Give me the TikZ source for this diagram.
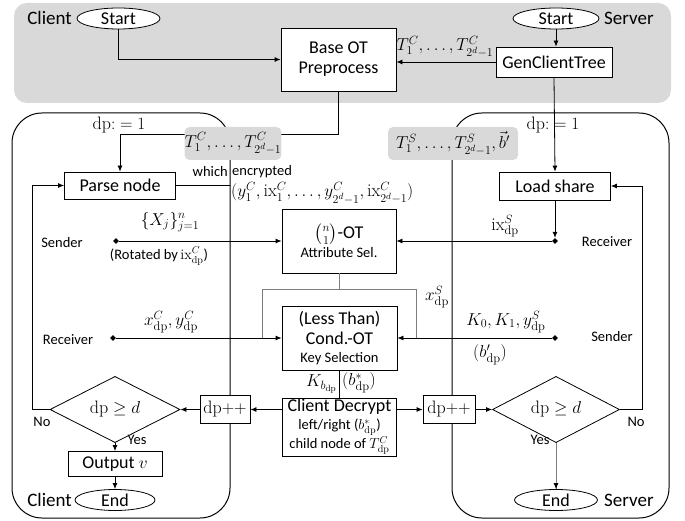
\documentclass[tikz,border=0pt]{standalone}
\usepackage{fontspec}
\usepackage{amsmath}
\newfontfamily\carlfont{Carlito}
\usetikzlibrary{arrows.meta,shapes.geometric,calc}
\definecolor{lgray}{RGB}{217,217,217}
\definecolor{lline}{RGB}{125,125,125}
\newcommand\smallf{\fontsize{14.5}{17}\selectfont}
\newcommand\bigf{\fontsize{19}{21}\selectfont}
\begin{document}
\begin{tikzpicture}[x=1pt,y=-1pt,
  font=\carlfont\fontsize{18}{20}\selectfont,
  box/.style={draw, line width=0.8pt, fill=white, inner sep=0pt, align=center},
  lab/.style={inner sep=0pt, font=\carlfont\smallf},
  mlab/.style={inner sep=0pt},
  term/.style={draw, ellipse, line width=0.8pt, inner sep=0pt, fill=white, minimum height=21pt},
  dec/.style={draw, diamond, line width=0.8pt, inner sep=0pt, fill=white, minimum height=46pt},
  conn/.style={line width=0.8pt, -{Latex[length=6pt,width=5pt]}},
  plain/.style={line width=0.8pt},
  region/.style={draw, line width=1pt, rounded corners=30pt},
  graybox/.style={fill=lgray, rounded corners=5pt, inner sep=0pt},
  dot/.style={diamond, fill=black, inner sep=0pt, minimum width=6pt, minimum height=6pt},
]
\useasboundingbox (0,0) rectangle (685,521);
% backgrounds
\fill[lgray, rounded corners=13pt] (14,3) rectangle (671,103);
\draw[region] (12,113) rectangle (230,518);
\draw[region] (452,113) rectangle (669,518);

% top nodes
\node[term, minimum width=83pt] (cs) at (118.5,18.5) {Start};
\node[anchor=east, inner sep=0pt, font=\carlfont\bigf] (clt) at (72,18) {Client};
\node[term, minimum width=86pt] (ss) at (556,18.5) {Start};
\node[anchor=west, inner sep=0pt, font=\carlfont\bigf] (svt) at (604,18) {Server};
\node[box, minimum width=115pt, minimum height=63pt] (base) at (338.5,59.5) {Base OT\\Preprocess};
\node[box, minimum width=116pt, minimum height=30pt] (gen) at (554,62) {GenClientTree};

\draw[conn] (cs.south) |- (base.west);
\draw[conn] (ss.south) -- (ss.south |- gen.north);
\draw[conn] (gen.west) -- (gen.west -| base.east);
\node[mlab, anchor=south] (tcl) at (445,58) {$T_1^C,\dots,T_{2^d-1}^C$};

% left column
\node[box, minimum width=111pt, minimum height=27pt] (parse) at (120,185.5) {Parse node};
\coordinate (j1) at (338.5,134);
\draw[conn] (base.south) -- (j1) -| (parse.north);
\node[mlab] (dpl) at (119,125) {$\mathrm{dp}{:}\;{=}\;1$};
\node[graybox, minimum width=96pt, minimum height=33pt] (tcg) at (233,143.5) {$T_1^C,\dots,T_{2^d-1}^C$};
\coordinate (pj) at (230,185.5);
\draw[plain] (parse.east) -- (pj);
\node[lab, anchor=east] (wh) at (228,172) {which};
\node[lab, anchor=west] (enc) at (232,172) {encrypted};
\node[mlab, anchor=west] (ylist) at (231,193) {$(y_1^C,\mathrm{ix}_1^C,\dots,y_{2^d-1}^C,\mathrm{ix}_{2^d-1}^C)$};

% right column top
\node[box, minimum width=111pt, minimum height=28pt] (load) at (555,186) {Load share};
\draw[conn] (gen.south) -- (load.north);
\node[mlab] (dpr) at (553,125) {$\mathrm{dp}{:}\;{=}\;1$};
\node[graybox, minimum width=130pt, minimum height=33pt] (tsg) at (453,143.5) {$T_1^S,\dots,T_{2^d-1}^S,\vec{b}'$};

% OT box
\node[box, minimum width=114pt, minimum height=64pt] (ot) at (339,241) {$\binom{n}{1}$-OT\\[-1pt]{\smallf Attribute Sel.}};
\node[dot] (sdl) at (116,241) {};
\node[dot] (rdr) at (555,241) {};
\draw[conn] (sdl) -- (ot.west);
\draw[conn] (load.south) -- (rdr.north);
\draw[conn] (rdr) -- (ot.east);
\node[lab] (sendl) at (62,243) {Sender};
\node[mlab] (xj) at (170,222) {$\{X_j\}_{j=1}^n$};
\node[lab] (rot) at (159,256) {(Rotated by\,$\mathrm{ix}^C_{\mathrm{dp}}$)};
\node[lab] (recr) at (607,242) {Receiver};
\node[mlab] (ixs) at (505,226) {$\mathrm{ix}^S_{\mathrm{dp}}$};

% Cond OT
\node[box, minimum width=115pt, minimum height=64pt] (cot) at (339.5,338) {(Less Than)\\Cond.-OT\\[-2pt]{\smallf Key Selection}};
\coordinate (lpM) at (339,289);
\coordinate (lpL) at (262,289);
\coordinate (lpR) at (416,289);
\coordinate (lpLb) at (262,338);
\coordinate (lpRb) at (416,338);
\draw[plain, lline] (ot.south) -- (lpM);
\draw[plain, lline] (lpLb) -- (lpL) -- (lpR) -- (lpRb);
\node[dot] (rdl) at (113,338) {};
\node[dot] (sdr) at (555,338) {};
\draw[conn] (rdl) -- (cot.west);
\draw[conn] (sdr) -- (cot.east);
\node[lab] (recl) at (68,340) {Receiver};
\node[lab] (sendr) at (612,337) {Sender};
\node[mlab] (xcyc) at (171,322) {$x^C_{\mathrm{dp}},y^C_{\mathrm{dp}}$};
\node[mlab] (kk) at (506,322) {$K_0,K_1,y^S_{\mathrm{dp}}$};
\node[mlab] (bp) at (490,355) {$(b'_{\mathrm{dp}})$};
\node[mlab] (xs) at (437,297) {$x^S_{\mathrm{dp}}$};

% Client decrypt
\node[box, minimum width=114pt, minimum height=58pt] (cd) at (339.5,427) {Client Decrypt\\[-2pt]{\smallf left/right ($b^*_{\mathrm{dp}}$)}\\[-1pt]{\smallf child node of $T^C_{\mathrm{dp}}$}};
\draw[plain] (cot.south) -- (cd.north);
\node[mlab, anchor=east] (kb) at (337,384) {$K_{b_{\mathrm{dp}}}$};
\node[mlab, anchor=west] (bs) at (342,383) {$(b^*_{\mathrm{dp}})$};

% dp++ boxes and diamonds
\node[box, minimum width=50pt, minimum height=28pt] (pl) at (225,409.5) {$\mathrm{dp}{+}{+}$};
\node[box, minimum width=52pt, minimum height=28pt] (pr) at (449,409.5) {$\mathrm{dp}{+}{+}$};
\node[dec, minimum width=130pt] (d1) at (115,409.5) {$\mathrm{dp}\geq d$};
\node[dec, minimum width=127pt] (d2) at (556,409.5) {$\mathrm{dp}\geq d$};
\draw[conn] (pl.east -| cd.west) -- (pl.east);
\draw[conn] (pl.west) -- (d1.east);
\draw[conn] (pr.west -| cd.east) -- (pr.west);
\draw[conn] (pr.east) -- (d2.west);

\coordinate (nl) at (32,409.5);
\coordinate (nr) at (642,409.5);
\draw[conn] (d1.west) -- (nl) |- (parse.west);
\draw[conn] (d2.east) -- (nr) |- (load.east);
\node[lab] (nol) at (42,422) {No};
\node[lab] (nor) at (636,422) {No};
\node[lab] (yesl) at (137,440) {Yes};
\node[lab] (yesr) at (540,440) {Yes};

% bottom
\node[box, minimum width=94pt, minimum height=25pt] (out) at (115,464) {Output $v$};
\node[term, minimum width=80pt] (ce) at (115,500) {End};
\node[anchor=east, inner sep=0pt, font=\carlfont\bigf] (clb) at (72,500) {Client};
\node[term, minimum width=83pt] (se) at (556,500) {End};
\node[anchor=west, inner sep=0pt, font=\carlfont\bigf] (svb) at (604,500) {Server};
\draw[conn] (d1.south) -- (out.north);
\draw[conn] (out.south) -- (ce.north);
\draw[plain, lline] (d2.south) -- (se.north);
\draw[conn] ($(se.north)+(0,-6)$) -- (se.north);
\end{tikzpicture}
\end{document}
